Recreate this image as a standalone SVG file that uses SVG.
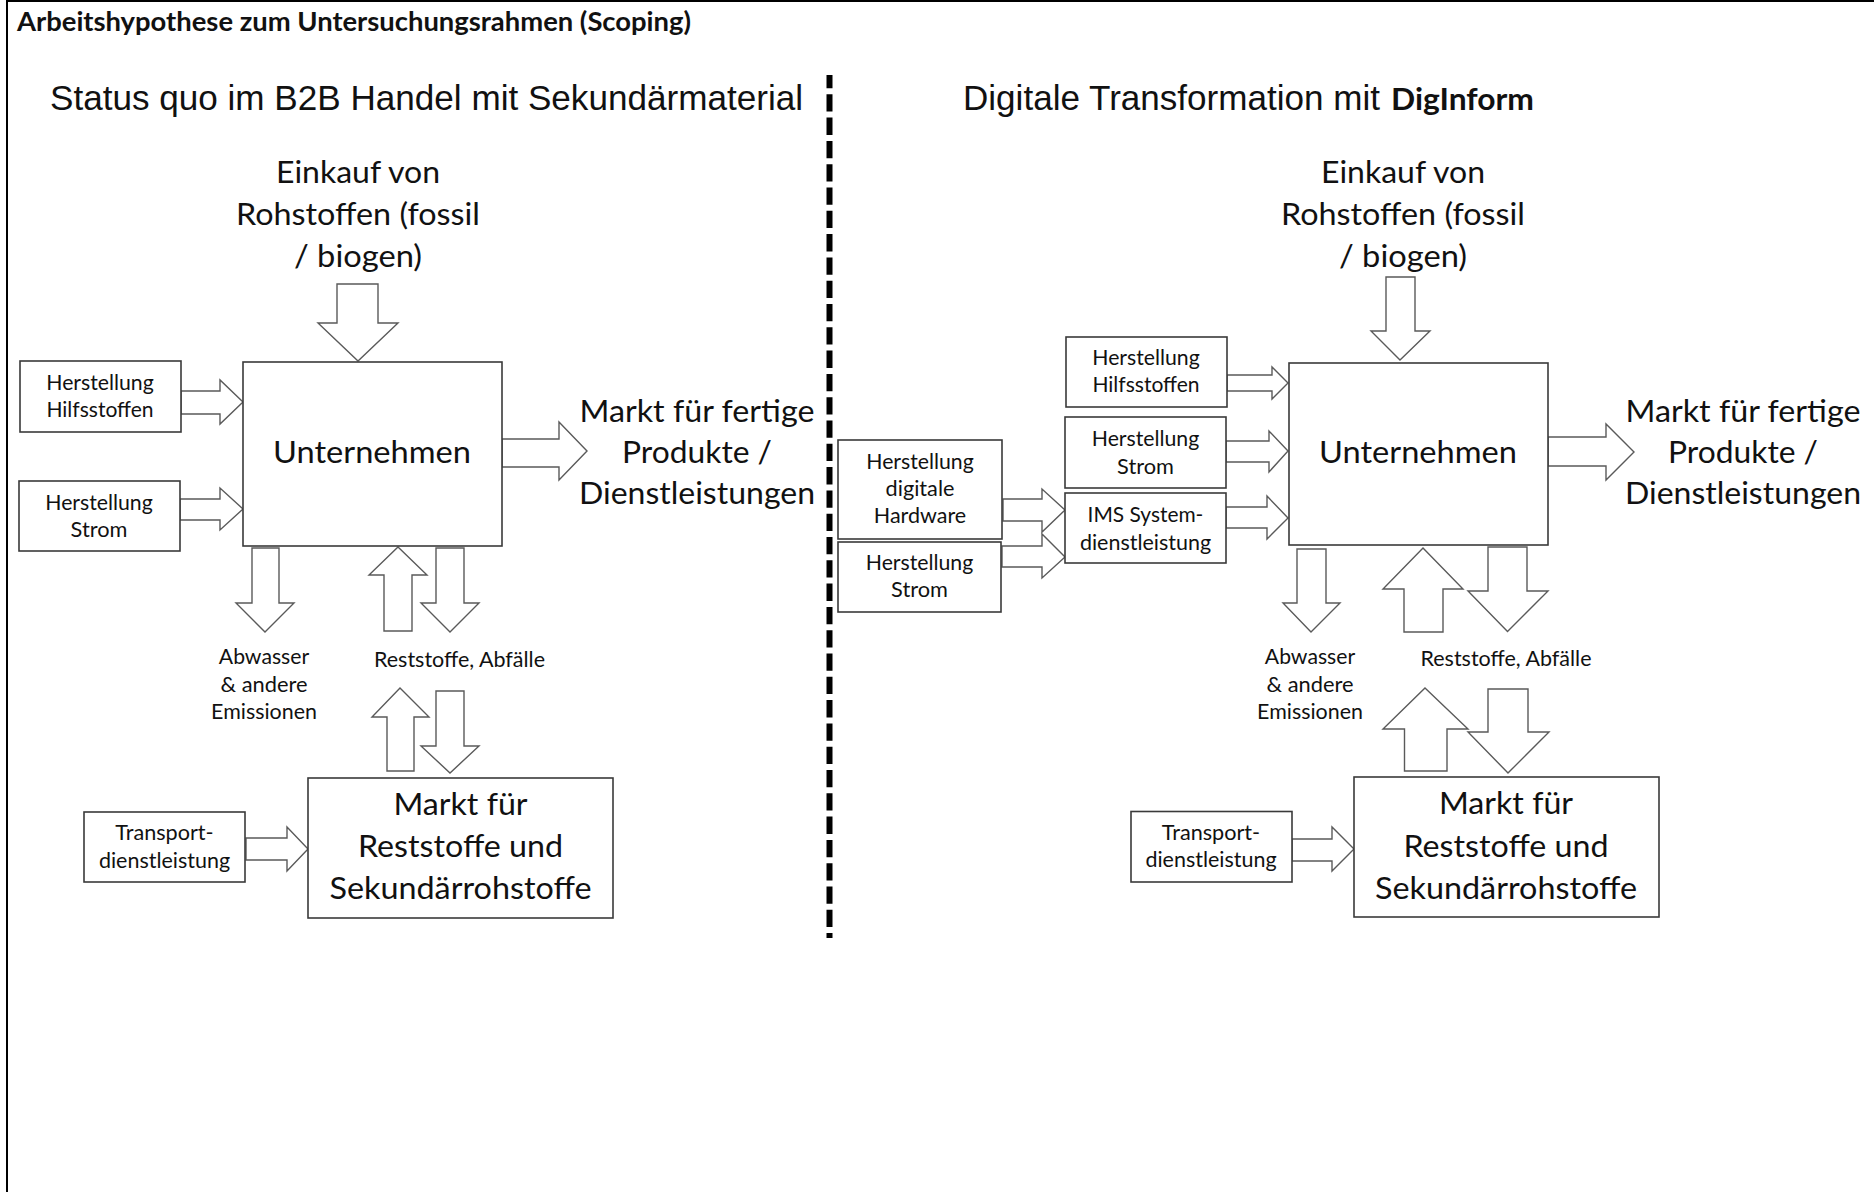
<svg xmlns="http://www.w3.org/2000/svg" width="1874" height="1192" viewBox="0 0 1874 1192">
<style>
.bg{fill:#fff}
.frame{stroke:#000;stroke-width:2;fill:none}
.divider{stroke:#000;stroke-width:6;stroke-dasharray:17.3 6;stroke-dashoffset:4;fill:none}
.box{fill:#fff;stroke:#3a3a3a;stroke-width:1.6}
.arr{fill:#fff;stroke:#5a5a5a;stroke-width:1.4;stroke-linejoin:miter}
text{font-family:Lato,"Open Sans","Liberation Sans",sans-serif;fill:#111;text-anchor:middle}
.big{font-size:31.5px}
.sm{font-size:21px}
.head{font-family:"Liberation Sans",Arial,sans-serif;font-size:35px;text-anchor:start}
.title{font-weight:bold;font-size:26px;text-anchor:start}
.bold{font-family:Lato,"Open Sans",sans-serif;font-weight:bold;font-size:31px;text-anchor:start}
</style>
<rect class="bg" x="0" y="0" width="1874" height="1192"/>
<g id="frame">
<path class="frame" d="M6,1 H1874 M7,0 V1192"/>
<path class="divider" d="M829.5,75 V938"/>
</g>
<text class="title" x="17" y="31" textLength="674" lengthAdjust="spacingAndGlyphs">Arbeitshypothese zum Untersuchungsrahmen (Scoping)</text>
<text class="head" x="50" y="110" textLength="753" lengthAdjust="spacingAndGlyphs">Status quo im B2B Handel mit Sekundärmaterial</text>
<text class="head" x="963" y="110" textLength="417" lengthAdjust="spacingAndGlyphs">Digitale Transformation mit</text>
<text class="bold" x="1391" y="110" textLength="143" lengthAdjust="spacingAndGlyphs">DigInform</text>

<g id="connectors">
<!-- left -->
<path class="arr" d="M337,284 H378 V323 H398 L358,361 L318,323 H337 Z"/>
<path class="arr" d="M181,391 H220 V380 L243,402 L220,424 V414 H181 Z"/>
<path class="arr" d="M180,499 H220 V488 L243,509 L220,530 V520 H180 Z"/>
<path class="arr" d="M502,439 H559 V422 L587,451 L559,480 V467 H502 Z"/>
<path class="arr" d="M252,548 H279 V603 H294 L265,632 L236,603 H252 Z"/>
<path class="arr" d="M398,547 L427,575 H412 V631 H384 V575 H369 Z"/>
<path class="arr" d="M436,548 H464 V603 H479 L450,632 L421,603 H436 Z"/>
<path class="arr" d="M400,688 L429,717 H414 V771 H387 V717 H372 Z"/>
<path class="arr" d="M436,691 H464 V746 H479 L450,773 L421,746 H436 Z"/>
<path class="arr" d="M246,838 H287 V827 L308,849 L287,871 V860 H246 Z"/>
<!-- right -->
<path class="arr" d="M1386,277 H1415 V331 H1430 L1400,360 L1371,331 H1386 Z"/>
<path class="arr" d="M1227,375 H1272 V367 L1288,383 L1272,399 V391 H1227 Z"/>
<path class="arr" d="M1226,441 H1269 V431 L1288,451 L1269,472 V462 H1226 Z"/>
<path class="arr" d="M1226,507 H1267 V496 L1288,518 L1267,539 V528 H1226 Z"/>
<path class="arr" d="M1003,499 H1042 V489 L1065,510 L1042,532 V521 H1003 Z"/>
<path class="arr" d="M1002,546 H1042 V534 L1065,557 L1042,578 V567 H1002 Z"/>
<path class="arr" d="M1548,437 H1606 V424 L1634,452 L1606,480 V466 H1548 Z"/>
<path class="arr" d="M1297,549 H1326 V603 H1340 L1311,632 L1283,603 H1297 Z"/>
<path class="arr" d="M1423,548 L1463,589 H1443 V632 H1404 V589 H1383 Z"/>
<path class="arr" d="M1488,547 H1527 V591 H1548 L1507.5,631.5 L1468,591 H1488 Z"/>
<path class="arr" d="M1425,688 L1468,729 H1447 V771 H1404.5 V729 H1383 Z"/>
<path class="arr" d="M1488,689 H1528 V732 H1549 L1508,773 L1468,732 H1488 Z"/>
<path class="arr" d="M1292,839 H1332 V827 L1354,849 L1332,871 V861 H1292 Z"/>
</g>

<!-- left nodes -->
<g id="l-einkauf">
<text class="big" x="358" y="183" textLength="164" lengthAdjust="spacingAndGlyphs">Einkauf von</text>
<text class="big" x="358" y="225" textLength="244" lengthAdjust="spacingAndGlyphs">Rohstoffen (fossil</text>
<text class="big" x="358" y="267" textLength="128" lengthAdjust="spacingAndGlyphs">/ biogen)</text>
</g>
<g id="l-hilfs">
<rect class="box" x="20" y="361" width="161" height="71"/>
<text class="sm" x="100" y="390" textLength="107.5" lengthAdjust="spacingAndGlyphs">Herstellung</text>
<text class="sm" x="100" y="417" textLength="107.2" lengthAdjust="spacingAndGlyphs">Hilfsstoffen</text>
</g>
<g id="l-strom">
<rect class="box" x="19" y="481" width="161" height="70"/>
<text class="sm" x="99" y="510" textLength="107.5" lengthAdjust="spacingAndGlyphs">Herstellung</text>
<text class="sm" x="99" y="537" textLength="56.8" lengthAdjust="spacingAndGlyphs">Strom</text>
</g>
<g id="l-unternehmen">
<rect class="box" x="243" y="362" width="259" height="184"/>
<text class="big" x="372" y="463" textLength="198" lengthAdjust="spacingAndGlyphs">Unternehmen</text>
</g>
<g id="l-markt-fertig">
<text class="big" x="697" y="422" textLength="235" lengthAdjust="spacingAndGlyphs">Markt für fertige</text>
<text class="big" x="697" y="463" textLength="150" lengthAdjust="spacingAndGlyphs">Produkte /</text>
<text class="big" x="697" y="504" textLength="236" lengthAdjust="spacingAndGlyphs">Dienstleistungen</text>
</g>
<g id="l-abwasser">
<text class="sm" x="264" y="664" textLength="90.3" lengthAdjust="spacingAndGlyphs">Abwasser</text>
<text class="sm" x="264" y="691.5" textLength="87" lengthAdjust="spacingAndGlyphs">&amp; andere</text>
<text class="sm" x="264" y="719" textLength="105.8" lengthAdjust="spacingAndGlyphs">Emissionen</text>
</g>
<g id="l-reststoffe">
<text class="sm" x="459.5" y="666.5" textLength="171" lengthAdjust="spacingAndGlyphs">Reststoffe, Abfälle</text>
</g>
<g id="l-transport">
<rect class="box" x="84" y="812" width="161" height="70"/>
<text class="sm" x="164.5" y="840" textLength="98.3" lengthAdjust="spacingAndGlyphs">Transport-</text>
<text class="sm" x="164.5" y="867.5" textLength="131.2" lengthAdjust="spacingAndGlyphs">dienstleistung</text>
</g>
<g id="l-markt-rest">
<rect class="box" x="308" y="778" width="305" height="140"/>
<text class="big" x="460.5" y="815" textLength="134.2" lengthAdjust="spacingAndGlyphs">Markt für</text>
<text class="big" x="460.5" y="857" textLength="205" lengthAdjust="spacingAndGlyphs">Reststoffe und</text>
<text class="big" x="460.5" y="899" textLength="262" lengthAdjust="spacingAndGlyphs">Sekundärrohstoffe</text>
</g>

<!-- right nodes -->
<g id="r-einkauf">
<text class="big" x="1403" y="183" textLength="164" lengthAdjust="spacingAndGlyphs">Einkauf von</text>
<text class="big" x="1403" y="225" textLength="244" lengthAdjust="spacingAndGlyphs">Rohstoffen (fossil</text>
<text class="big" x="1403" y="267" textLength="128" lengthAdjust="spacingAndGlyphs">/ biogen)</text>
</g>
<g id="r-hilfs">
<rect class="box" x="1066" y="337" width="161" height="70"/>
<text class="sm" x="1146" y="365" textLength="107.5" lengthAdjust="spacingAndGlyphs">Herstellung</text>
<text class="sm" x="1146" y="392" textLength="107.2" lengthAdjust="spacingAndGlyphs">Hilfsstoffen</text>
</g>
<g id="r-strom">
<rect class="box" x="1065" y="417" width="161" height="71"/>
<text class="sm" x="1145.5" y="446" textLength="107.5" lengthAdjust="spacingAndGlyphs">Herstellung</text>
<text class="sm" x="1145.5" y="473.5" textLength="56.8" lengthAdjust="spacingAndGlyphs">Strom</text>
</g>
<g id="r-ims">
<rect class="box" x="1065" y="493" width="161" height="70"/>
<text class="sm" x="1145.5" y="522" textLength="115.8" lengthAdjust="spacingAndGlyphs">IMS System-</text>
<text class="sm" x="1145.5" y="549.5" textLength="131.2" lengthAdjust="spacingAndGlyphs">dienstleistung</text>
</g>
<g id="r-hardware">
<rect class="box" x="838" y="440" width="164" height="99"/>
<text class="sm" x="920" y="468.5" textLength="107.5" lengthAdjust="spacingAndGlyphs">Herstellung</text>
<text class="sm" x="920" y="496" textLength="68.9" lengthAdjust="spacingAndGlyphs">digitale</text>
<text class="sm" x="920" y="523" textLength="92.4" lengthAdjust="spacingAndGlyphs">Hardware</text>
</g>
<g id="r-strom2">
<rect class="box" x="838" y="542" width="163" height="70"/>
<text class="sm" x="919.5" y="569.5" textLength="107.5" lengthAdjust="spacingAndGlyphs">Herstellung</text>
<text class="sm" x="919.5" y="597" textLength="56.8" lengthAdjust="spacingAndGlyphs">Strom</text>
</g>
<g id="r-unternehmen">
<rect class="box" x="1289" y="363" width="259" height="182"/>
<text class="big" x="1418" y="463" textLength="198" lengthAdjust="spacingAndGlyphs">Unternehmen</text>
</g>
<g id="r-markt-fertig">
<text class="big" x="1743" y="422" textLength="235" lengthAdjust="spacingAndGlyphs">Markt für fertige</text>
<text class="big" x="1743" y="463" textLength="150" lengthAdjust="spacingAndGlyphs">Produkte /</text>
<text class="big" x="1743" y="504" textLength="236" lengthAdjust="spacingAndGlyphs">Dienstleistungen</text>
</g>
<g id="r-abwasser">
<text class="sm" x="1310" y="664" textLength="90.3" lengthAdjust="spacingAndGlyphs">Abwasser</text>
<text class="sm" x="1310" y="691.5" textLength="87" lengthAdjust="spacingAndGlyphs">&amp; andere</text>
<text class="sm" x="1310" y="719" textLength="105.8" lengthAdjust="spacingAndGlyphs">Emissionen</text>
</g>
<g id="r-reststoffe">
<text class="sm" x="1506" y="666" textLength="171" lengthAdjust="spacingAndGlyphs">Reststoffe, Abfälle</text>
</g>
<g id="r-transport">
<rect class="box" x="1131" y="811.5" width="161" height="70.5"/>
<text class="sm" x="1211" y="840" textLength="98.3" lengthAdjust="spacingAndGlyphs">Transport-</text>
<text class="sm" x="1211" y="867" textLength="131.2" lengthAdjust="spacingAndGlyphs">dienstleistung</text>
</g>
<g id="r-markt-rest">
<rect class="box" x="1354" y="777" width="305" height="140"/>
<text class="big" x="1506" y="814" textLength="134.2" lengthAdjust="spacingAndGlyphs">Markt für</text>
<text class="big" x="1506" y="857" textLength="205" lengthAdjust="spacingAndGlyphs">Reststoffe und</text>
<text class="big" x="1506" y="899" textLength="262" lengthAdjust="spacingAndGlyphs">Sekundärrohstoffe</text>
</g>
</svg>
